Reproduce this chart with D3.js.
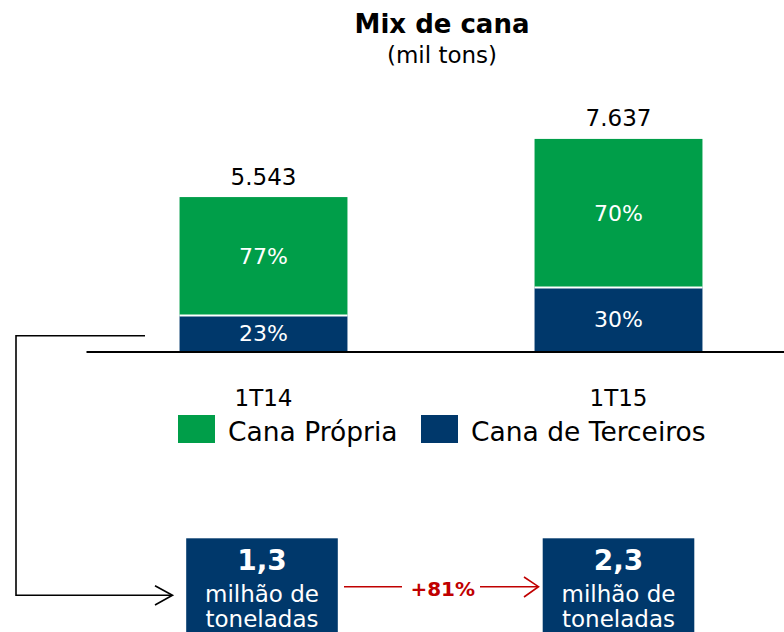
<!DOCTYPE html>
<html>
<head>
<meta charset="utf-8">
<script src="https://cdn.jsdelivr.net/npm/d3@7"></script>
<style>
  html, body { margin: 0; padding: 0; background: #fff; }
  svg { display: block; font-family: "DejaVu Sans", sans-serif; }
</style>
</head>
<body>
<svg id="chart" width="784" height="632"></svg>
<script>
// ---- data ----
const categories = ["1T14", "1T15"];
const totals = [5543, 7637];               // mil tons
const sharePropria = [77, 70];             // %
const shareTerceiros = [23, 30];           // %
const seriesNames = ["Cana Própria", "Cana de Terceiros"];
const seriesColors = ["#009E49", "#00386B"];
const totalLabels = ["5.543", "7.637"];
const boxValues = ["1,3", "2,3"];
const boxUnitLines = ["milhão de", "toneladas"];
const growthLabel = "+81%";
const titleText = "Mix de cana";
const subtitleText = "(mil tons)";

// ---- setup ----
const svg = d3.select("#chart");
const axisY = 351;
const pxPerUnit = 0.02777;

const y = d3.scaleLinear().domain([0, 8000]).range([axisY, axisY - 8000 * pxPerUnit]);
const x = d3.scaleBand().domain(categories).range([86, 796]).paddingInner(0.527).paddingOuter(0.2635);

// stacked rows
const rows = categories.map((c, i) => ({
  cat: c,
  terceiros: totals[i] * shareTerceiros[i] / 100,
  propria: totals[i] * sharePropria[i] / 100,
  pTer: shareTerceiros[i],
  pPro: sharePropria[i],
  total: totals[i],
  totalLabel: totalLabels[i]
}));
const stack = d3.stack().keys(["terceiros", "propria"]);
const stacked = stack(rows);
const keyColor = { terceiros: seriesColors[1], propria: seriesColors[0] };
const keyPct = { terceiros: "pTer", propria: "pPro" };

// title
svg.append("text").attr("x", 442).attr("y", 33).attr("text-anchor", "middle")
  .attr("font-size", 26).attr("font-weight", "bold").attr("fill", "#000").text(titleText);
svg.append("text").attr("x", 442).attr("y", 63).attr("text-anchor", "middle")
  .attr("font-size", 23).attr("fill", "#000").text(subtitleText);

// bars
const layers = svg.append("g").selectAll("g").data(stacked).join("g")
  .attr("fill", d => keyColor[d.key]);
layers.selectAll("rect").data(d => d.map(p => Object.assign({ key: d.key }, p))).join("rect")
  .attr("x", d => x(d.data.cat))
  .attr("width", x.bandwidth())
  .attr("y", d => y(d[1]))
  .attr("height", d => y(d[0]) - y(d[1]));

// white separators between segments
svg.append("g").selectAll("line").data(stacked[1]).join("line")
  .attr("x1", d => x(d.data.cat)).attr("x2", d => x(d.data.cat) + x.bandwidth())
  .attr("y1", d => y(d[0])).attr("y2", d => y(d[0]))
  .attr("stroke", "#fff").attr("stroke-width", 2);

// percent labels
layers.selectAll("text").data(d => d.map(p => Object.assign({ key: d.key }, p))).join("text")
  .attr("x", d => x(d.data.cat) + x.bandwidth() / 2)
  .attr("y", d => (y(d[0]) + y(d[1])) / 2 + 8)
  .attr("text-anchor", "middle")
  .attr("font-size", 22)
  .attr("fill", "#fff")
  .text(d => d.data[keyPct[d.key]] + "%");

// total labels
svg.append("g").selectAll("text").data(rows).join("text")
  .attr("x", d => x(d.cat) + x.bandwidth() / 2)
  .attr("y", d => y(d.total) - 12.5)
  .attr("text-anchor", "middle")
  .attr("font-size", 23)
  .attr("fill", "#000")
  .text(d => d.totalLabel);

// x axis
const xAxis = d3.axisBottom(x).tickSize(0).tickSizeOuter(0);
const gx = svg.append("g").attr("transform", `translate(0,${axisY + 0.5})`).call(xAxis);
gx.select(".domain").attr("stroke", "#000").attr("stroke-width", 2);
gx.selectAll(".tick text")
  .attr("y", 54).attr("dy", 0)
  .attr("font-size", 23).attr("font-family", "DejaVu Sans, sans-serif").attr("fill", "#000");

// legend
const legendItems = [
  { name: seriesNames[0], color: seriesColors[0], sx: 178, tx: 228 },
  { name: seriesNames[1], color: seriesColors[1], sx: 421, tx: 471 }
];
const lg = svg.append("g").selectAll("g").data(legendItems).join("g");
lg.append("rect").attr("x", d => d.sx).attr("y", 415).attr("width", 37).attr("height", 28)
  .attr("fill", d => d.color);
lg.append("text").attr("x", d => d.tx).attr("y", 441).attr("font-size", 26.5).attr("fill", "#000")
  .text(d => d.name);

// left connector arrow
svg.append("path")
  .attr("d", "M145,335.7H16V595.3H172")
  .attr("fill", "none").attr("stroke", "#000").attr("stroke-width", 1.6);
svg.append("path")
  .attr("d", "M155,585.7L172.5,595.3L155,605")
  .attr("fill", "none").attr("stroke", "#000").attr("stroke-width", 1.6);

// bottom boxes
const boxW = 151.6;
const boxes = svg.append("g").selectAll("g").data(categories.map((c, i) => ({ cat: c, v: boxValues[i] }))).join("g")
  .attr("transform", d => `translate(${x(d.cat) + x.bandwidth() / 2 - boxW / 2 - (d.cat === categories[0] ? 1.5 : 0)},538.3)`);
boxes.append("rect").attr("width", boxW).attr("height", 100).attr("fill", seriesColors[1]);
boxes.append("text").attr("x", boxW / 2).attr("y", 32).attr("text-anchor", "middle")
  .attr("font-size", 28).attr("font-weight", "bold").attr("fill", "#fff").text(d => d.v);
boxes.append("text").attr("x", boxW / 2).attr("y", 63.5).attr("text-anchor", "middle")
  .attr("font-size", 23).attr("fill", "#fff").text(boxUnitLines[0]);
boxes.append("text").attr("x", boxW / 2).attr("y", 88.5).attr("text-anchor", "middle")
  .attr("font-size", 23).attr("fill", "#fff").text(boxUnitLines[1]);

// growth arrow
const red = "#C00000";
svg.append("line").attr("x1", 344).attr("x2", 402).attr("y1", 586.7).attr("y2", 586.7)
  .attr("stroke", red).attr("stroke-width", 1.6);
svg.append("line").attr("x1", 480).attr("x2", 538).attr("y1", 586.7).attr("y2", 586.7)
  .attr("stroke", red).attr("stroke-width", 1.6);
svg.append("path").attr("d", "M524,577L538.5,586.7L524,597")
  .attr("fill", "none").attr("stroke", red).attr("stroke-width", 1.6);
svg.append("text").attr("x", 442.7).attr("y", 596).attr("text-anchor", "middle")
  .attr("font-size", 20).attr("font-weight", "bold").attr("fill", red).text(growthLabel);
</script>
</body>
</html>
